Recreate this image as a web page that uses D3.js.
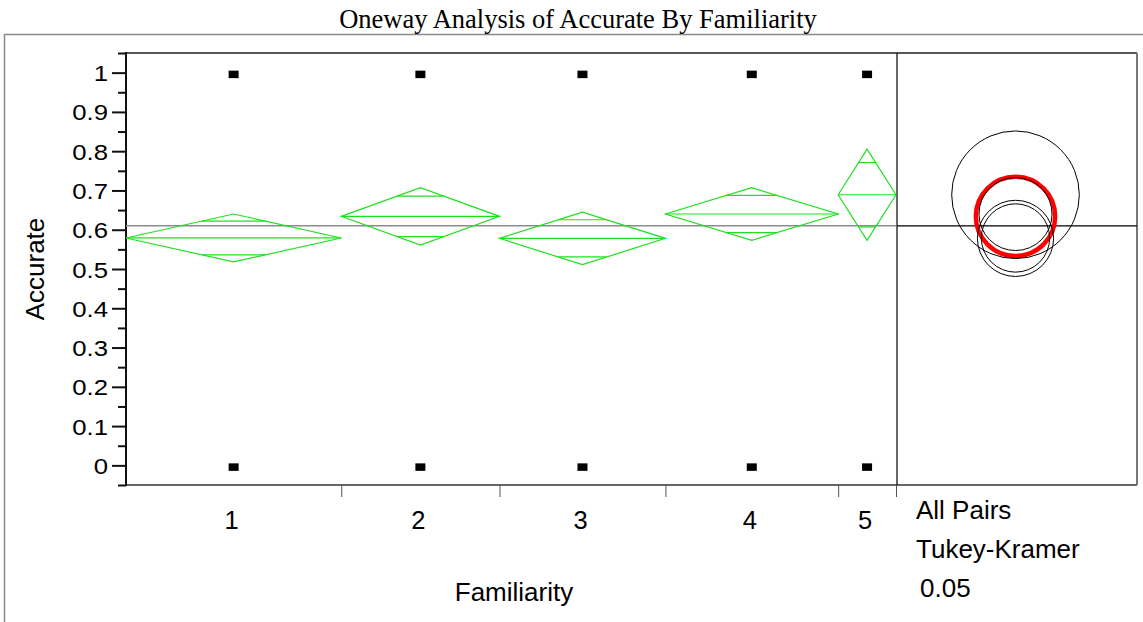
<!DOCTYPE html>
<html>
<head>
<meta charset="utf-8">
<script src="https://cdn.jsdelivr.net/npm/d3@7"></script>
<style>
  body { margin: 0; background: #fff; }
  svg { display: block; }
</style>
</head>
<body>
<div id="viz"></div>
<script>
// data
const categories = ["1", "2", "3", "4", "5"];
const counts = [253, 186, 195, 203, 68];          // x widths are proportional to n
const means = [0.579, 0.634, 0.578, 0.640, 0.689];
const ciHalf = [0.061, 0.073, 0.067, 0.067, 0.116]; // 95% diamond half-heights
const circleRadius = [0.087, 0.101, 0.097, 0.093, 0.1625]; // Tukey-Kramer circles
const pointValues = [0, 1];
const grandMean = 0.610;
const yTickValues = [0, 0.1, 0.2, 0.3, 0.4, 0.5, 0.6, 0.7, 0.8, 0.9, 1];
const yTickLabels = ["0", "0.1", "0.2", "0.3", "0.4", "0.5", "0.6", "0.7", "0.8", "0.9", "1"];
const selectedGroup = "2";

const W = 1143, H = 622;
const plotL = 126, plotR = 896, plotT = 53, plotB = 485, panelR = 1137;
const GREEN = "#1ee01e";
const SANS = "'Liberation Sans', Arial, sans-serif";

const svg = d3.select("#viz").append("svg")
    .attr("width", W)
    .attr("height", H);

// outer report box (runs off the canvas)
svg.append("rect")
    .attr("x", 4.5).attr("y", 34.5)
    .attr("width", 1300).attr("height", 800)
    .attr("fill", "none").attr("stroke", "#8a8a8a").attr("stroke-width", 1.5);

svg.append("text")
    .attr("x", 578).attr("y", 28)
    .attr("text-anchor", "middle")
    .style("font-family", "'Liberation Serif', 'Times New Roman', serif")
    .style("font-size", "26.5px")
    .text("Oneway Analysis of Accurate By Familiarity");

// scales
const total = d3.sum(counts);
const x = d3.scaleLinear().domain([0, total]).range([plotL, plotR]);
const y = d3.scaleLinear().domain([-0.05, 1.05]).range([plotB, plotT]);

const cum = Array.from(d3.cumsum(counts));
const groups = categories.map((c, i) => {
    const x0 = x(i === 0 ? 0 : cum[i - 1]);
    const x1 = x(cum[i]);
    return { name: c, x0, x1, xc: (x0 + x1) / 2, mean: means[i], h: ciHalf[i], r: circleRadius[i] };
});

// frame lines
svg.append("line").attr("x1", plotL).attr("x2", panelR).attr("y1", plotT).attr("y2", plotT)
    .attr("stroke", "#222").attr("stroke-width", 1.5);
svg.append("line").attr("x1", plotL).attr("x2", panelR).attr("y1", plotB).attr("y2", plotB)
    .attr("stroke", "#333").attr("stroke-width", 1.5);
svg.append("line").attr("x1", plotR + 1).attr("x2", plotR + 1).attr("y1", plotT).attr("y2", plotB)
    .attr("stroke", "#000").attr("stroke-width", 1.2);
svg.append("line").attr("x1", panelR).attr("x2", panelR).attr("y1", plotT).attr("y2", plotB)
    .attr("stroke", "#777").attr("stroke-width", 2);

// y axis: major + minor ticks
const minorTicks = d3.range(-0.05, 1.06, 0.1).map(v => +v.toFixed(2));
const yMinor = svg.append("g").attr("transform", `translate(${plotL},0)`)
    .call(d3.axisLeft(y).tickValues(minorTicks).tickSize(8).tickFormat(""));
const yMajor = svg.append("g").attr("transform", `translate(${plotL},0)`)
    .call(d3.axisLeft(y).tickValues(yTickValues).tickSize(14)
        .tickFormat((d, i) => yTickLabels[i]));
[yMinor, yMajor].forEach(g => {
    g.select(".domain").remove();
    g.selectAll(".tick line").attr("stroke", "#111").attr("stroke-width", 2);
});
svg.append("line").attr("x1", plotL).attr("x2", plotL).attr("y1", plotT - 1).attr("y2", plotB + 1)
    .attr("stroke", "#111").attr("stroke-width", 2);
yMajor.selectAll(".tick text")
    .attr("x", null).attr("dy", null)
    .attr("transform", "translate(-18,0) scale(1.12,1)")
    .attr("dominant-baseline", "central")
    .attr("fill", "#000")
    .style("font-family", SANS)
    .style("font-size", "23px");

svg.append("text")
    .attr("transform", "translate(35,269) rotate(-90)")
    .attr("text-anchor", "middle")
    .attr("dominant-baseline", "central")
    .style("font-family", SANS).style("font-size", "26px")
    .text("Accurate");

// x axis: group separators and labels
const xAxis = svg.append("g").attr("transform", `translate(0,${plotB})`)
    .call(d3.axisBottom(x).tickValues(cum).tickSize(12).tickFormat(""));
xAxis.select(".domain").remove();
xAxis.selectAll(".tick line").attr("stroke", "#555").attr("stroke-width", 1);

svg.append("g").selectAll("text")
    .data(groups)
    .join("text")
    .attr("x", d => d.xc - 2)
    .attr("y", 529)
    .attr("text-anchor", "middle")
    .style("font-family", SANS).style("font-size", "25.5px")
    .text(d => d.name);

svg.append("text")
    .attr("x", 514).attr("y", 601)
    .attr("text-anchor", "middle")
    .style("font-family", SANS).style("font-size", "26px")
    .text("Familiarity");

// grand mean
svg.append("line").attr("x1", plotL).attr("x2", plotR).attr("y1", y(grandMean)).attr("y2", y(grandMean))
    .attr("stroke", "#8c8c8c").attr("stroke-width", 1.5);
svg.append("line").attr("x1", plotR + 1).attr("x2", panelR).attr("y1", y(grandMean)).attr("y2", y(grandMean))
    .attr("stroke", "#000").attr("stroke-width", 1.2);

// points at 0 and 1
const pts = groups.flatMap(g => pointValues.map(v => ({ xc: g.xc, v })));
svg.append("g").selectAll("rect")
    .data(pts)
    .join("rect")
    .attr("x", d => d.xc - 5)
    .attr("y", d => y(d.v) - 2)
    .attr("width", 10).attr("height", 7.5)
    .attr("fill", "#000");

// means diamonds
const dia = svg.append("g").attr("fill", "none").attr("stroke", GREEN).attr("stroke-width", 1.2);
dia.selectAll("polygon")
    .data(groups)
    .join("polygon")
    .attr("points", d => {
        const ym = y(d.mean), dh = y(d.mean - d.h) - ym;
        return [[d.x0, ym], [d.xc, ym - dh], [d.x1, ym], [d.xc, ym + dh]].join(" ");
    });
dia.selectAll("line.mean")
    .data(groups)
    .join("line")
    .attr("class", "mean")
    .attr("x1", d => d.x0).attr("x2", d => d.x1)
    .attr("y1", d => y(d.mean)).attr("y2", d => y(d.mean));
const overlap = groups.flatMap(g => [1, -1].map(s => ({ g, s })));
dia.selectAll("line.ovl")
    .data(overlap)
    .join("line")
    .attr("class", "ovl")
    .attr("x1", d => d.g.xc - (d.g.x1 - d.g.x0) / 2 * (1 - Math.SQRT1_2))
    .attr("x2", d => d.g.xc + (d.g.x1 - d.g.x0) / 2 * (1 - Math.SQRT1_2))
    .attr("y1", d => y(d.g.mean + d.s * d.g.h * Math.SQRT1_2))
    .attr("y2", d => y(d.g.mean + d.s * d.g.h * Math.SQRT1_2));

// comparison circles
const cx = (plotR + panelR) / 2 - 1;
const pxPerUnit = y(0) - y(1);
svg.append("circle")
    .datum(groups.find(g => g.name === selectedGroup))
    .attr("cx", cx).attr("cy", d => y(d.mean)).attr("r", d => d.r * pxPerUnit)
    .attr("fill", "none").attr("stroke", "#ff0000").attr("stroke-width", 4.5);
svg.append("g").selectAll("circle")
    .data(groups.filter(g => g.name !== selectedGroup))
    .join("circle")
    .attr("cx", cx).attr("cy", d => y(d.mean)).attr("r", d => d.r * pxPerUnit)
    .attr("fill", "none").attr("stroke", "#000").attr("stroke-width", 1);

// test legend
svg.append("g")
    .style("font-family", SANS).style("font-size", "26px")
    .selectAll("text")
    .data([["All Pairs", 916, 519], ["Tukey-Kramer", 916, 558], ["0.05", 920, 597]])
    .join("text")
    .attr("x", d => d[1]).attr("y", d => d[2])
    .text(d => d[0]);
</script>
</body>
</html>
